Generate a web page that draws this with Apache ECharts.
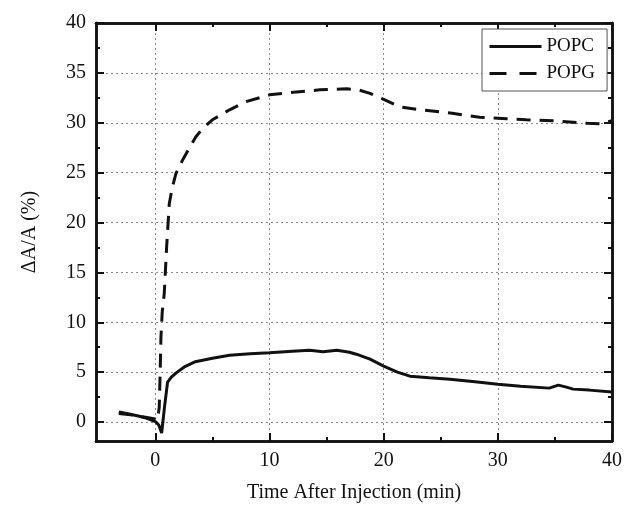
<!DOCTYPE html>
<html>
<head>
<meta charset="utf-8">
<script src="https://cdn.jsdelivr.net/npm/echarts@6/dist/echarts.min.js"></script>
<style>html,body{margin:0;padding:0;background:#fff;}#c{width:628px;height:516px;}</style>
</head>
<body>
<div id="c"></div>
<script>
// ---- data ----
var xMajor = [0, 10, 20, 30, 40];
var xMinor = [5, 15, 25, 35];
var yMajor = [0, 5, 10, 15, 20, 25, 30, 35, 40];
var yMinor = [2.5, 7.5, 12.5, 17.5, 22.5, 27.5, 32.5, 37.5];

var timePOPC = [-3.2, -2.5, -1.5, -0.8, 0, 0.3, 0.55, 0.8, 1.07, 1.4, 1.8, 2.5, 3.5, 5, 6.5, 8.3, 10, 12, 13.5, 14.7, 15.9, 17, 17.6, 18.8, 20, 21.2, 22.3, 24, 25.8, 28, 30, 32, 34.5, 35.3, 36, 36.6, 38, 40];
var valPOPC  = [1.0, 0.85, 0.6, 0.4, 0.05, -0.3, -1.1, 1.5, 4.0, 4.5, 4.9, 5.5, 6.05, 6.4, 6.7, 6.85, 6.95, 7.1, 7.2, 7.05, 7.2, 7.0, 6.8, 6.3, 5.6, 5.0, 4.6, 4.45, 4.3, 4.05, 3.8, 3.6, 3.4, 3.7, 3.5, 3.3, 3.2, 3.0];

var timePOPG = [-3.2, -2, -1, 0, 0.2, 0.34, 0.42, 0.49, 0.6, 0.78, 0.99, 1.22, 1.5, 1.8, 2.4, 3, 3.55, 4.2, 5, 6.5, 7.9, 10, 12.1, 14.4, 16.75, 17.8, 18.8, 20, 21.4, 23.2, 26, 28.4, 30.8, 32.5, 34.8, 37.8, 39, 40];
var valPOPG  = [0.85, 0.7, 0.5, 0.3, 0.2, 1.5, 5, 8.55, 11, 12.9, 17.6, 21.9, 23.6, 24.9, 26.3, 27.5, 28.6, 29.5, 30.3, 31.3, 32.1, 32.8, 33.05, 33.3, 33.4, 33.3, 32.95, 32.35, 31.6, 31.3, 30.95, 30.55, 30.4, 30.3, 30.2, 29.95, 29.9, 30.2];

var seriesNames = ['POPC', 'POPG'];
var xTitle = 'Time After Injection (min)';
var yTitle = '\u0394A/A (%)';

function pairs(xs, ys) { return xs.map(function (x, i) { return [x, ys[i]]; }); }

var FONT = '"Liberation Serif", "DejaVu Serif", serif';
var INK = '#111';
var XMIN = -5.2, XMAX = 40, YMIN = -1.9, YMAX = 40;
var gridRect = { left: 96, right: 16, top: 23, bottom: 75 };

function xAx(gi, pos, ticks, len, extra) {
  var a = {
    type: 'value', gridIndex: gi, position: pos, min: XMIN, max: XMAX,
    axisLine: { show: true, onZero: false, lineStyle: { color: INK, width: 2.5 } },
    axisTick: { show: true, inside: true, length: len, customValues: ticks, lineStyle: { color: INK, width: 2 } },
    axisLabel: { show: false },
    splitLine: { show: false }
  };
  return Object.assign(a, extra || {});
}
function yAx(gi, pos, ticks, len, extra) {
  var a = {
    type: 'value', gridIndex: gi, position: pos, min: YMIN, max: YMAX,
    axisLine: { show: true, onZero: false, lineStyle: { color: INK, width: 2.5 } },
    axisTick: { show: true, inside: true, length: len, customValues: ticks, lineStyle: { color: INK, width: 2 } },
    axisLabel: { show: false },
    splitLine: { show: false }
  };
  return Object.assign(a, extra || {});
}

var gridLineStyle = { color: '#8a8a8a', width: 1, type: [2, 3] };

var option = {
  backgroundColor: '#fff',
  animation: false,
  grid: [Object.assign({}, gridRect), Object.assign({}, gridRect)],
  legend: {
    orient: 'vertical', left: 482, top: 29,
    padding: [8, 12, 8, 6], itemGap: 8, itemWidth: 52, itemHeight: 14,
    backgroundColor: '#fff', borderColor: '#555', borderWidth: 1, borderRadius: 0,
    itemStyle: { opacity: 0, borderWidth: 0 },
    textStyle: { fontFamily: FONT, fontSize: 19, color: INK, padding: [0, 0, 0, 0] },
    data: [
      { name: seriesNames[0], lineStyle: { width: 3, type: 'solid' } },
      { name: seriesNames[1], lineStyle: { width: 3, type: [17, 13] } }
    ]
  },
  xAxis: [
    xAx(0, 'bottom', xMajor, 8, {
      name: xTitle, nameLocation: 'middle', nameGap: 42,
      nameTextStyle: { fontFamily: FONT, fontSize: 20, color: INK },
      axisLabel: { show: true, customValues: xMajor, margin: 10, fontFamily: FONT, fontSize: 20, color: INK },
      splitLine: { show: true, lineStyle: gridLineStyle }
    }),
    xAx(0, 'top', xMajor, 8),
    xAx(1, 'bottom', xMinor, 4),
    xAx(1, 'top', xMinor, 4)
  ],
  yAxis: [
    yAx(0, 'left', yMajor, 8, {
      name: yTitle, nameLocation: 'middle', nameGap: 56,
      nameTextStyle: { fontFamily: FONT, fontSize: 20, color: INK },
      axisLabel: { show: true, customValues: yMajor, margin: 10, fontFamily: FONT, fontSize: 20, color: INK },
      splitLine: { show: true, lineStyle: gridLineStyle }
    }),
    yAx(0, 'right', yMajor, 8),
    yAx(1, 'left', yMinor, 4),
    yAx(1, 'right', yMinor, 4)
  ],
  series: [
    {
      name: seriesNames[0], type: 'line', xAxisIndex: 0, yAxisIndex: 0,
      data: pairs(timePOPC, valPOPC), showSymbol: false, symbol: 'none', smooth: false,
      lineStyle: { color: INK, width: 3, type: 'solid' }, itemStyle: { color: INK }, z: 3
    },
    {
      name: seriesNames[1], type: 'line', xAxisIndex: 0, yAxisIndex: 0,
      data: pairs(timePOPG, valPOPG), showSymbol: false, symbol: 'none', smooth: false,
      lineStyle: { color: INK, width: 3, type: [14, 9] }, itemStyle: { color: INK }, z: 3
    }
  ]
};

var chart = echarts.init(document.getElementById('c'), null, { renderer: 'canvas' });
chart.setOption(option);
</script>
</body>
</html>
